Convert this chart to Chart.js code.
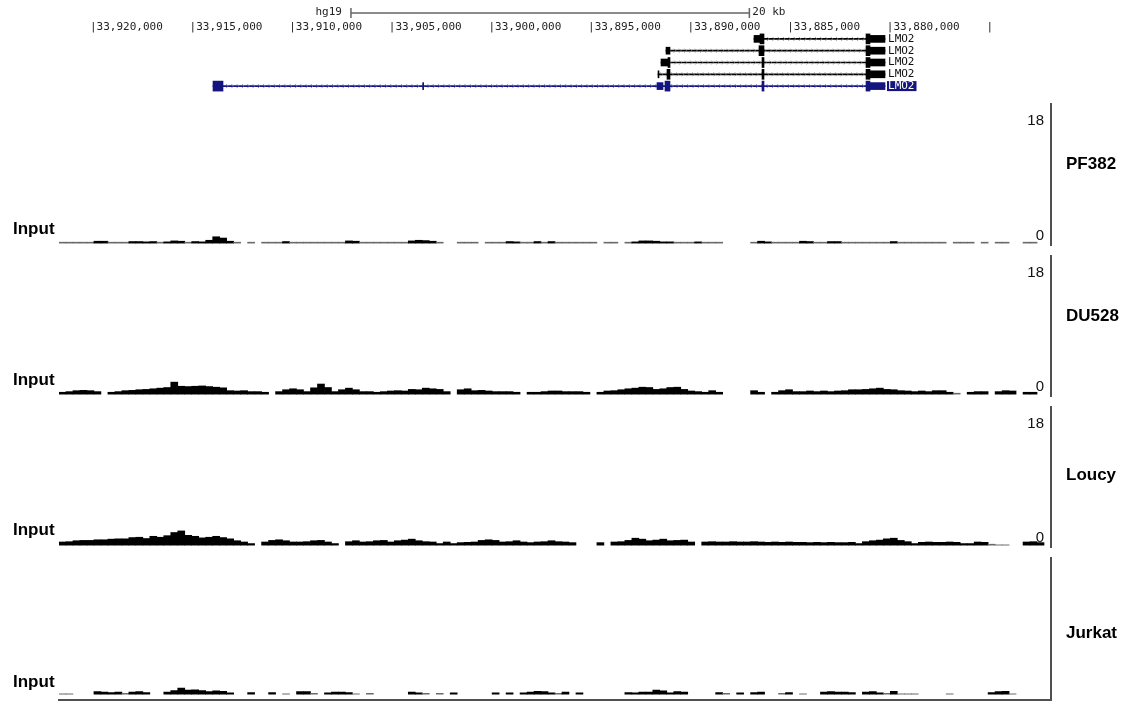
<!doctype html>
<html lang="en">
<head>
<meta charset="utf-8">
<title>LMO2 input tracks</title>
<style>
  * { margin: 0; padding: 0; }
  body { width: 1136px; height: 701px; background: #fff; position: relative; overflow: hidden;
         font-family: "Liberation Sans", Arial, sans-serif; }
  .box { position: absolute; left: 0; width: 1136px; }
  .lbl { position: absolute; font-weight: bold; font-size: 17px; line-height: 17px; color: #000; white-space: nowrap; }
</style>
</head>
<body>
<div class="box" style="top:0;height:100px"><canvas id="hdr"></canvas></div>

<script src="https://cdn.jsdelivr.net/npm/chart.js@4/dist/chart.umd.min.js"></script>
<script>
// ---- data ----
// genome ruler (hg19, chr11), axis runs right-to-left
const rulerTicks = [33920000, 33915000, 33910000, 33905000, 33900000, 33895000, 33890000, 33885000, 33880000, 33875000];
const scaleBar = [33906900, 33886900];   // "20 kb"

// LMO2 transcripts: one row each, [start, end] in hg19 coords
const geneRows = ['tx1', 'tx2', 'tx3', 'tx4', 'tx5'];
const intronSpans = [[33886667, 33880091], [33891085, 33880091], [33891336, 33880091], [33891486, 33880091], [33913825, 33880091]];
const exonSpans = [
  [[33886366, 33886165], [33881045, 33880844]],
  [[33886416, 33886165], [33881045, 33880844]],
  [[33890985, 33890884], [33886266, 33886165], [33881045, 33880844]],
  [[33891035, 33890884], [33886266, 33886165], [33881045, 33880844]],
  [[33913825, 33913323], [33891135, 33890884], [33886266, 33886165], [33881045, 33880844]]
];
const utrSpans = [
  [[33886667, 33886366], [33880844, 33880091]],
  [[33891085, 33890884], [33880844, 33880091]],
  [[33891336, 33890985], [33880844, 33880091]],
  [[33891486, 33891436], [33880844, 33880091]],
  [[33903300, 33903250], [33891537, 33891235], [33880844, 33880091]]
];
const geneName = 'LMO2';

// input signal, 142 bins of ~350 bp each across the view, left to right
const pf382 = [
  0.15,0.15,0.15,0.15,0.15,0.3,0.3,0.15,0.15,0.15,
  0.25,0.25,0.2,0.25,0.15,0.2,0.35,0.3,0.15,0.25,
  0.2,0.45,1.0,0.8,0.3,0.15,null,0.15,null,0.15,
  0.15,0.15,0.25,0.15,0.15,0.15,0.15,0.15,0.15,0.15,
  0.15,0.35,0.3,0.15,0.15,0.15,0.15,0.15,0.15,0.15,
  0.35,0.45,0.4,0.3,0.15,null,null,0.15,0.15,0.15,
  null,0.15,0.15,0.15,0.25,0.2,0.15,0.15,0.25,0.15,
  0.25,0.15,0.15,0.15,0.15,0.15,0.15,null,0.15,0.15,
  null,0.15,0.2,0.35,0.35,0.3,0.2,0.2,0.15,0.15,
  0.15,0.2,0.15,0.15,0.15,null,null,null,null,0.15,
  0.3,0.2,0.15,0.15,0.15,0.15,0.3,0.25,0.15,0.15,
  0.25,0.25,0.15,0.15,0.15,0.15,0.15,0.15,0.15,0.25,
  0.15,0.15,0.15,0.15,0.15,0.15,0.15,null,0.15,0.15,
  0.15,null,0.15,null,0.15,0.15,null,null,0.15,0.15,
  null,null
];
const du528 = [
  0.3,0.4,0.55,0.6,0.55,0.4,null,0.3,0.4,0.55,
  0.6,0.7,0.75,0.85,0.95,1.05,1.9,1.25,1.2,1.25,
  1.3,1.2,1.1,1.0,0.55,0.5,0.55,0.4,0.4,0.3,
  null,0.4,0.7,0.85,0.7,0.4,1.0,1.6,1.05,0.4,
  0.7,0.95,0.7,0.4,0.4,0.3,0.4,0.5,0.55,0.5,
  0.75,0.7,0.95,0.85,0.75,0.4,null,0.7,0.85,0.55,
  0.6,0.5,0.4,0.4,0.4,0.3,null,0.3,0.3,0.4,
  0.5,0.5,0.4,0.4,0.4,0.3,null,0.3,0.5,0.55,
  0.7,0.85,0.95,1.1,1.05,0.75,0.85,1.05,1.1,0.75,
  0.5,0.4,0.3,0.55,0.3,null,null,null,null,0.55,
  0.3,null,0.3,0.55,0.7,0.4,0.4,0.5,0.4,0.5,
  0.4,0.5,0.55,0.7,0.7,0.75,0.85,0.95,0.75,0.7,
  0.55,0.5,0.4,0.5,0.4,0.55,0.55,0.3,0.15,null,
  0.3,0.4,0.4,null,0.4,0.55,0.5,null,0.3,0.3,
  null,null
];
const loucy = [
  0.5,0.55,0.7,0.75,0.75,0.85,0.85,0.95,1.0,1.0,
  1.2,1.25,1.05,1.4,1.25,1.5,2.0,2.25,1.55,1.4,
  1.15,1.25,1.4,1.2,1.0,0.7,0.5,0.25,null,0.5,
  0.75,0.85,0.7,0.5,0.5,0.55,0.7,0.75,0.5,0.25,
  null,0.55,0.7,0.5,0.55,0.7,0.75,0.5,0.7,0.8,
  0.95,0.7,0.55,0.5,0.25,0.5,0.25,0.4,0.45,0.5,
  0.75,0.85,0.75,0.5,0.55,0.7,0.5,0.4,0.5,0.55,
  0.7,0.55,0.5,0.4,null,null,null,0.4,null,0.5,
  0.55,0.75,1.1,0.95,0.7,0.8,0.95,0.7,0.75,0.8,
  0.5,null,0.5,0.55,0.5,0.5,0.55,0.5,0.5,0.55,
  0.5,0.45,0.5,0.45,0.5,0.45,0.45,0.4,0.45,0.4,
  0.45,0.4,0.4,0.45,0.25,0.55,0.7,0.8,1.0,1.1,
  0.75,0.55,0.25,0.45,0.5,0.45,0.45,0.5,0.45,0.25,
  0.25,0.5,0.45,0.15,0.05,0.05,null,null,0.5,0.55,
  0.4,null
];
const jurkat = [
  0.05,0.05,null,null,null,0.4,0.35,0.25,0.35,0.15,
  0.35,0.4,0.25,null,null,0.35,0.6,1.0,0.65,0.7,
  0.6,0.4,0.55,0.45,0.2,null,null,0.25,null,null,
  0.25,null,0.05,null,0.4,0.4,0.15,null,0.2,0.35,
  0.35,0.25,0.05,null,0.15,null,null,null,null,null,
  0.35,0.2,0.15,null,0.15,null,0.2,null,null,null,
  null,null,0.2,null,0.2,null,0.2,0.35,0.45,0.4,
  0.2,0.15,0.35,null,0.2,null,null,null,null,null,
  null,0.25,0.2,0.35,0.35,0.65,0.55,0.2,0.4,0.35,
  null,null,null,null,0.25,0.15,null,0.2,null,0.25,
  0.35,null,null,0.15,0.25,null,0.05,null,null,0.35,
  0.4,0.35,0.35,0.25,null,0.35,0.4,0.2,0.15,0.45,
  0.05,0.05,0.05,null,null,null,null,0.05,null,null,
  null,null,null,0.25,0.4,0.45,0.05,null,null,null,
  null,null
];
const trackNames = ['PF382', 'DU528', 'Loucy', 'Jurkat'];
const trackSignals = [pf382, du528, loucy, jurkat];
const yTicks = [0, 18];

// ---- layout ----
const X_LEFT = 33921556, X_RIGHT = 33871758;   // genome coords at the plot edges
const padL = 59, padR = 85;
const panels = [
  { top: 103, h: 143, min: -0.45, pb: 0, labels: true, name: 155, input: 220 },
  { top: 255, h: 142, min: -0.45, pb: 0, labels: true, name: 307, input: 371 },
  { top: 406, h: 142, min: -0.45, pb: 0, labels: true, name: 466, input: 521 },
  { top: 557, h: 144, min: -0.85, pb: 1.5, labels: false, name: 624, input: 673 }
];
const axisGrey = '#505050';
const navy = '#14147e';

// ---- header: ruler + gene models ----
const rowOf = i => geneRows[i];
const spanData = list => list.flatMap((spans, i) => spans.map(s => ({ y: rowOf(i), x: s })));
const geneColor = c => (c.raw && c.raw.y === geneRows[geneRows.length - 1]) ? navy : '#000';

const scaleBarPlugin = {
  id: 'scaleBar',
  afterDraw(chart) {
    const { ctx, scales: { x } } = chart;
    const a = x.getPixelForValue(scaleBar[0]), b = x.getPixelForValue(scaleBar[1]);
    const y = 13;
    ctx.save();
    ctx.strokeStyle = '#666';
    ctx.lineWidth = 1.5;
    ctx.beginPath();
    ctx.moveTo(a, y); ctx.lineTo(b, y);
    ctx.moveTo(a, y - 5); ctx.lineTo(a, y + 5);
    ctx.moveTo(b, y - 5); ctx.lineTo(b, y + 5);
    ctx.stroke();
    ctx.font = '11px "DejaVu Sans Mono", monospace';
    ctx.fillStyle = '#222';
    ctx.textBaseline = 'middle';
    ctx.textAlign = 'right';
    ctx.fillText('hg19', a - 9, y - 1);
    ctx.textAlign = 'left';
    ctx.fillText('20 kb', b + 3, y - 1);
    ctx.restore();
  }
};

// small strand chevrons along each intron line, drawn before the exons
const chevronPlugin = {
  id: 'chevrons',
  afterDatasetDraw(chart, args) {
    if (args.index !== 0) return;
    const { ctx, scales: { x, y } } = chart;
    ctx.save();
    ctx.lineWidth = 0.8;
    intronSpans.forEach((s, i) => {
      const x0 = x.getPixelForValue(s[0]), x1 = x.getPixelForValue(s[1]);
      const py = y.getPixelForValue(i);
      ctx.strokeStyle = i === geneRows.length - 1 ? '#7070c0' : '#8a8a8a';
      ctx.beginPath();
      for (let px = x0 + 4; px < x1 - 2; px += 5.3) {
        ctx.moveTo(px - 1.5, py - 2);
        ctx.lineTo(px + 0.5, py);
        ctx.lineTo(px - 1.5, py + 2);
      }
      ctx.stroke();
    });
    ctx.restore();
  }
};

const geneLabelPlugin = {
  id: 'geneLabels',
  afterDatasetsDraw(chart) {
    const { ctx, scales: { x, y } } = chart;
    ctx.save();
    ctx.font = '11px "DejaVu Sans Mono", monospace';
    ctx.textBaseline = 'middle';
    ctx.textAlign = 'left';
    geneRows.forEach((r, i) => {
      const px = x.getPixelForValue(intronSpans[i][1]) + 3;
      const py = y.getPixelForValue(i);
      const w = ctx.measureText(geneName).width;
      if (i === geneRows.length - 1) {
        ctx.fillStyle = navy;
        ctx.fillRect(px - 1, py - 5, w + 3, 10);
        ctx.fillStyle = '#fff';
      } else {
        ctx.fillStyle = '#111';
      }
      ctx.fillText(geneName, px, py);
    });
    ctx.restore();
  }
};

new Chart(document.getElementById('hdr'), {
  type: 'bar',
  data: {
    labels: geneRows,
    datasets: [
      { data: intronSpans.map((s, i) => ({ y: rowOf(i), x: s })), barThickness: 1, backgroundColor: geneColor, order: 3 },
      { data: spanData(utrSpans), barThickness: 7, backgroundColor: geneColor, order: 2 },
      { data: spanData(exonSpans), barThickness: 10, backgroundColor: geneColor, order: 1 }
    ]
  },
  options: {
    indexAxis: 'y',
    animation: false,
    responsive: true,
    maintainAspectRatio: false,
    layout: { padding: { left: padL, right: padR, top: 13, bottom: 8 } },
    datasets: { bar: { grouped: false } },
    plugins: { legend: { display: false }, tooltip: { enabled: false } },
    scales: {
      x: {
        type: 'linear', position: 'top', reverse: true, min: X_RIGHT, max: X_LEFT,
        grid: { display: false, drawTicks: false }, border: { display: false },
        afterBuildTicks: s => { s.ticks = rulerTicks.map(v => ({ value: v })); },
        afterFit: s => { s.height = 20; },
        ticks: {
          align: 'start', padding: 0, maxRotation: 0, autoSkip: false, color: '#222',
          font: { family: '"DejaVu Sans Mono", monospace', size: 11, lineHeight: 1 },
          callback: v => v === rulerTicks[rulerTicks.length - 1] ? '|' : '|' + v.toLocaleString('en-US')
        }
      },
      y: { display: false }
    }
  },
  plugins: [scaleBarPlugin, chevronPlugin, geneLabelPlugin]
});

// ---- signal tracks ----
const binLabels = pf382.map((v, i) => 'bin' + i);
const barColor = c => (c.raw != null && c.raw <= 0.15) ? '#6a6a6a' : '#000';

// "18" / "0" view-range labels, left of the right-hand axis
const rangeLabelPlugin = {
  id: 'rangeLabels',
  afterDraw(chart, args, opts) {
    if (!opts.show) return;
    const { ctx, chartArea, scales: { y } } = chart;
    ctx.save();
    ctx.font = '15px "Liberation Sans", Arial, sans-serif';
    ctx.fillStyle = '#111';
    ctx.textAlign = 'right';
    ctx.textBaseline = 'alphabetic';
    yTicks.forEach(v => ctx.fillText(String(v), chartArea.right - 7, y.getPixelForValue(v) - 3));
    ctx.restore();
  }
};

trackNames.forEach((name, k) => {
  const p = panels[k];
  const box = document.createElement('div');
  box.className = 'box';
  box.style.top = p.top + 'px';
  box.style.height = p.h + 'px';
  const cv = document.createElement('canvas');
  box.appendChild(cv);
  document.body.appendChild(box);

  const nameDiv = document.createElement('div');
  nameDiv.className = 'lbl';
  nameDiv.textContent = name;
  nameDiv.style.left = '1066px';
  nameDiv.style.top = p.name + 'px';
  document.body.appendChild(nameDiv);

  const inDiv = document.createElement('div');
  inDiv.className = 'lbl';
  inDiv.textContent = 'Input';
  inDiv.style.left = '13px';
  inDiv.style.top = p.input + 'px';
  document.body.appendChild(inDiv);

  const last = k === trackNames.length - 1;
  new Chart(cv, {
    type: 'bar',
    data: {
      labels: binLabels,
      datasets: [{
        data: trackSignals[k],
        backgroundColor: barColor,
        borderWidth: 0,
        barPercentage: 1,
        categoryPercentage: 1
      }]
    },
    options: {
      animation: false,
      responsive: true,
      maintainAspectRatio: false,
      layout: { padding: { left: padL, right: padR, top: 0, bottom: p.pb } },
      plugins: { legend: { display: false }, tooltip: { enabled: false }, rangeLabels: { show: p.labels } },
      scales: {
        x: {
          display: last,
          grid: { display: false, drawTicks: false },
          border: { display: last, color: axisGrey, width: 2 },
          ticks: { display: false }
        },
        y: {
          position: 'right', min: p.min, max: 22,
          grid: { display: false, drawTicks: false },
          border: { display: true, color: axisGrey, width: 2 },
          afterBuildTicks: s => { s.ticks = yTicks.map(v => ({ value: v })); },
          afterFit: s => { s.width = 0; },
          ticks: { display: false }
        }
      }
    },
    plugins: [rangeLabelPlugin]
  });
});
</script>
</body>
</html>
